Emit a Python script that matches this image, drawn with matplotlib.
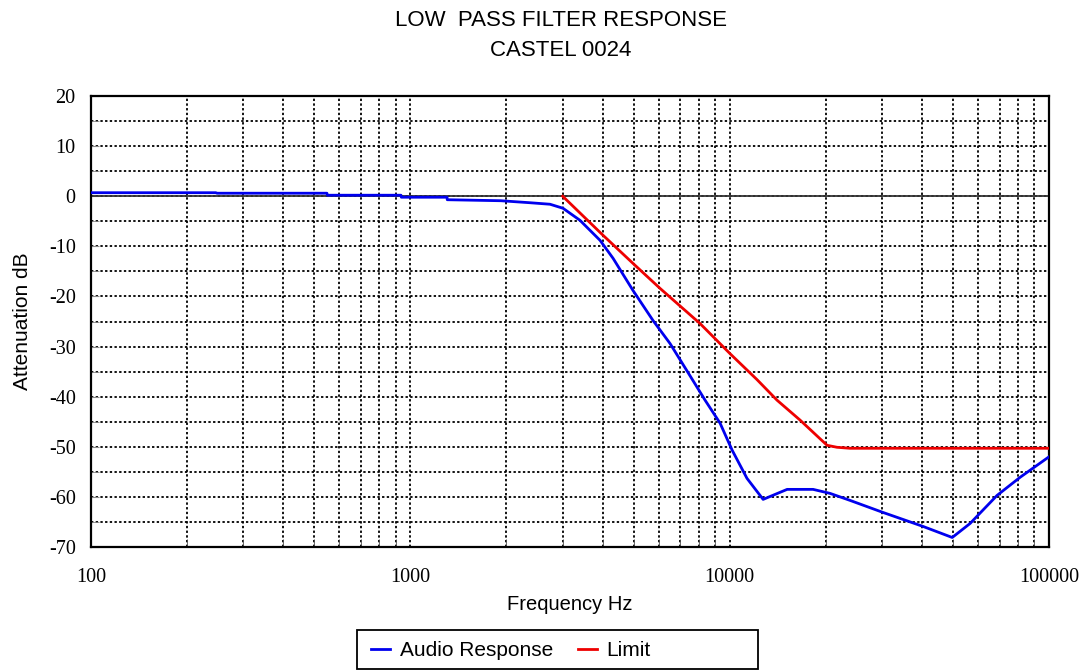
import numpy as np
import matplotlib
matplotlib.use('Agg')
import matplotlib.pyplot as plt
from matplotlib.patches import Rectangle
from matplotlib.ticker import FixedLocator, NullFormatter

# values
audio_freq = [100, 246, 248, 548, 550, 935, 937, 1303, 1305, 1920, 2371, 2738, 3006, 3397,
              3927, 4315, 4980, 5754, 6506, 7678, 8375, 9333, 10184, 11330, 12728,
              15136, 18250, 20620, 23820, 30200, 40340, 49770, 56620, 68770, 81150, 100000]
audio_db = [0.7, 0.7, 0.6, 0.6, 0.2, 0.2, -0.2, -0.2, -0.7, -0.9, -1.3, -1.6, -2.4, -4.8,
            -8.8, -12.4, -18.8, -24.8, -29.4, -36.8, -40.7, -45.3, -50.7, -56.3, -60.5,
            -58.5, -58.5, -59.3, -60.7, -63.1, -65.9, -68.1, -65.3, -59.7, -56.1, -52.0]

limit_freq = [3000, 4014, 4980, 6055, 8075, 10020, 12180, 14070, 16630, 20180, 21680, 23820, 100000]
limit_db = [0.0, -7.8, -13.4, -18.4, -25.4, -31.4, -36.6, -40.7, -44.7, -49.7, -50.1, -50.3, -50.3]

x_ticks = [100, 1000, 10000, 100000]
y_ticks = [20, 10, 0, -10, -20, -30, -40, -50, -60, -70]

sans = 'Liberation Sans'
serif = 'Liberation Serif'

fig = plt.figure(figsize=(10.89, 6.71), dpi=100)
ax = fig.add_axes([91/1089, 1-547/671, 958/1089, 451/671])

ax.set_xscale('log')
ax.set_xlim(100, 100000)
ax.set_ylim(-70, 20)

# grid: dotted black, majors and minors look the same
grid_style = dict(color='black', linestyle=(0, (1.3, 1.3)), linewidth=1.3)
ax.xaxis.set_major_locator(FixedLocator(x_ticks))
ax.xaxis.set_minor_locator(FixedLocator([m * 10**d for d in range(2, 5) for m in range(2, 10)]))
ax.yaxis.set_major_locator(FixedLocator(y_ticks))
ax.yaxis.set_minor_locator(FixedLocator(np.arange(-65, 20, 10)))
ax.xaxis.set_minor_formatter(NullFormatter())
ax.grid(True, which='both', **grid_style)
ax.set_axisbelow(True)

ax.axhline(0, color='#333333', linewidth=1.3, zorder=1.5)

ax.plot(audio_freq, audio_db, color='#0000ee', linewidth=2, label='Audio Response', zorder=3)
ax.plot(limit_freq, limit_db, color='#ee0000', linewidth=2, label='Limit', zorder=3)

ax.set_xticklabels([str(v) for v in x_ticks], fontfamily=serif, fontsize=14.5)
ax.set_yticklabels([str(v) for v in y_ticks], fontfamily=serif, fontsize=14.5)
ax.tick_params(axis='x', which='both', direction='in', length=6, pad=15, color='#555555')
ax.tick_params(axis='y', which='both', direction='in', length=6, pad=11, color='#888888')
ax.tick_params(axis='x', which='major', length=0)

for s in ax.spines.values():
    s.set_linewidth(1.6)
    s.set_color('black')

ax.set_xlabel('Frequency Hz', fontfamily=sans, fontsize=14.5, labelpad=6)
ax.set_ylabel('Attenuation dB', fontfamily=sans, fontsize=15, labelpad=12)

fig.text(0.515, 1-26/671, 'LOW  PASS FILTER RESPONSE', ha='center', va='baseline',
         fontfamily=sans, fontsize=16)
fig.text(0.515, 1-56/671, 'CASTEL 0024', ha='center', va='baseline',
         fontfamily=sans, fontsize=16)

# legend box at the bottom
fig.patches.append(Rectangle((357/1089, 1-669/671), 401/1089, 39/671,
                             transform=fig.transFigure, fill=False,
                             edgecolor='black', linewidth=1.3))
fig.legend(loc='center left', bbox_to_anchor=(361/1089, 1-651/671),
           bbox_transform=fig.transFigure, ncol=2, frameon=False,
           prop={'family': sans, 'size': 15}, handlelength=0.9,
           handletextpad=0.45, columnspacing=1.2, borderpad=0)

fig.savefig('out.png', dpi=100)
